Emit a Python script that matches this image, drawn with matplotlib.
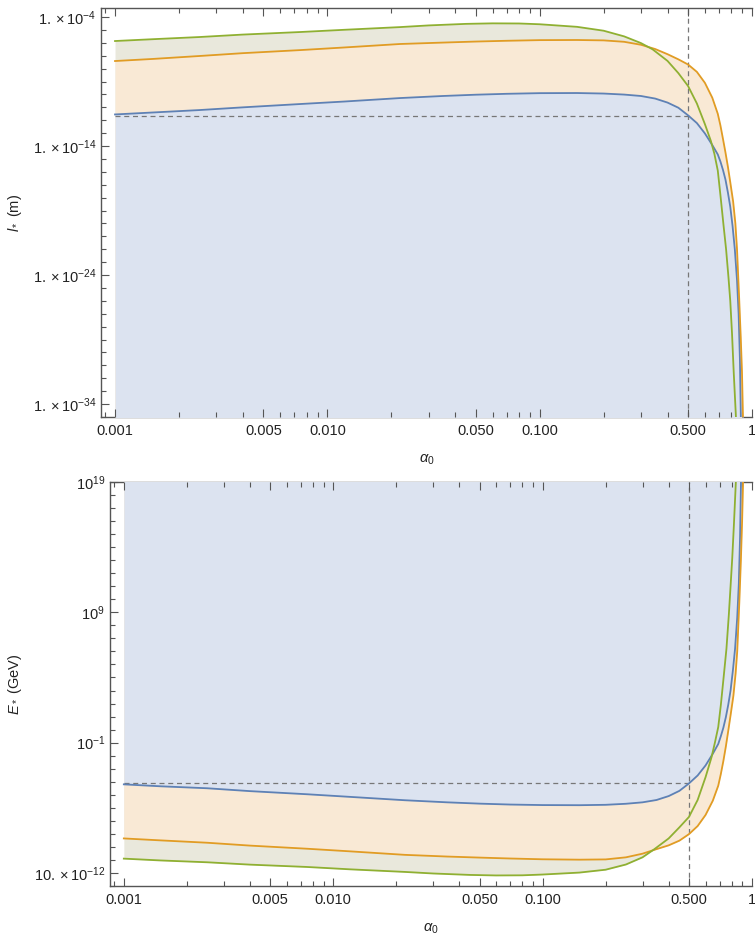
import numpy as np
import matplotlib
matplotlib.use('Agg')
import matplotlib.pyplot as plt
import matplotlib.ticker as mticker

plt.rcParams['font.family'] = ['Liberation Sans', 'DejaVu Sans']
plt.rcParams['mathtext.fontset'] = 'custom'
plt.rcParams['mathtext.rm'] = 'Liberation Sans'
plt.rcParams['mathtext.it'] = 'Liberation Sans:italic'

# ---- upper panel: l_* (m), values as log10 ----
a_blue_top = [0.001, 0.0015, 0.0025, 0.004, 0.0075, 0.012, 0.022, 0.035, 0.05, 0.07, 0.1, 0.15, 0.2,
              0.25, 0.3, 0.35, 0.4, 0.45, 0.5, 0.55, 0.6, 0.65, 0.69, 0.71, 0.73, 0.75, 0.77, 0.79,
              0.81, 0.83, 0.85, 0.865, 0.877, 0.887]
l_blue = [-11.55, -11.40, -11.21, -11.00, -10.74, -10.55, -10.28, -10.12, -10.02, -9.95, -9.90, -9.89, -9.93,
          -10.01, -10.12, -10.32, -10.63, -11.03, -11.62, -12.22, -13.02, -13.92, -14.65, -15.2, -15.85, -16.6,
          -17.6, -18.7, -20.2, -22.0, -24.4, -27.0, -30.5, -35.5]

a_orange_top = [0.001, 0.0015, 0.0025, 0.004, 0.0075, 0.012, 0.022, 0.035, 0.05, 0.07, 0.1, 0.15, 0.2,
                0.25, 0.3, 0.35, 0.4, 0.45, 0.5, 0.55, 0.6, 0.65, 0.69, 0.71, 0.73, 0.75, 0.77, 0.79,
                0.815, 0.835, 0.85, 0.87, 0.885, 0.897, 0.908]
l_orange = [-7.41, -7.25, -7.02, -6.80, -6.56, -6.36, -6.09, -5.98, -5.90, -5.84, -5.79, -5.78, -5.81,
            -5.92, -6.15, -6.48, -6.88, -7.28, -7.68, -8.25, -9.10, -10.25, -11.5, -12.4, -13.45, -14.5,
            -15.6, -16.8, -18.3, -20.0, -22.0, -25.8, -28.8, -31.5, -35.5]

a_green_top = [0.001, 0.0015, 0.0025, 0.004, 0.0075, 0.012, 0.022, 0.03, 0.045, 0.06, 0.08, 0.1, 0.15,
               0.2, 0.25, 0.3, 0.34, 0.4, 0.45, 0.5, 0.55, 0.6, 0.64, 0.665, 0.69, 0.71, 0.735, 0.755,
               0.775, 0.79, 0.805, 0.82, 0.843]
l_green = [-5.86, -5.72, -5.55, -5.36, -5.16, -4.99, -4.78, -4.65, -4.53, -4.49, -4.50, -4.56, -4.76,
           -5.06, -5.50, -6.02, -6.50, -7.40, -8.35, -9.35, -10.7, -12.3, -13.6, -14.6, -15.9, -17.8,
           -20.2, -22.0, -24.2, -26.0, -28.5, -31.5, -35.5]

# ---- lower panel: E_* (GeV), values as log10 ----
a_blue_bot = [0.001, 0.0015, 0.0025, 0.004, 0.0075, 0.012, 0.022, 0.035, 0.05, 0.07, 0.1, 0.15, 0.2,
              0.25, 0.3, 0.35, 0.4, 0.45, 0.5, 0.55, 0.6, 0.65, 0.69, 0.71, 0.73, 0.75, 0.77, 0.79,
              0.81, 0.83, 0.85, 0.865, 0.877, 0.887]
E_blue = [-4.20, -4.35, -4.50, -4.72, -4.96, -5.16, -5.42, -5.58, -5.68, -5.75, -5.79, -5.80, -5.77,
          -5.69, -5.58, -5.40, -5.10, -4.70, -4.13, -3.52, -2.75, -1.85, -1.1, -0.5, 0.15, 0.95,
          1.9, 3.0, 4.5, 6.2, 8.6, 11.2, 14.8, 19.5]

a_orange_bot = [0.001, 0.0015, 0.0025, 0.004, 0.0075, 0.012, 0.022, 0.035, 0.05, 0.07, 0.1, 0.15, 0.2,
                0.25, 0.3, 0.35, 0.4, 0.45, 0.5, 0.55, 0.6, 0.65, 0.69, 0.71, 0.73, 0.75, 0.77, 0.79,
                0.815, 0.835, 0.85, 0.87, 0.885, 0.897, 0.908]
E_orange = [-8.35, -8.50, -8.68, -8.90, -9.14, -9.34, -9.61, -9.74, -9.82, -9.89, -9.95, -9.98, -9.96,
            -9.80, -9.52, -9.17, -8.88, -8.52, -8.02, -7.40, -6.55, -5.45, -4.30, -3.4, -2.40, -1.3,
            -0.1, 1.1, 2.6, 4.3, 6.0, 9.8, 13.0, 16.0, 19.5]

a_green_bot = [0.001, 0.0015, 0.0025, 0.004, 0.0075, 0.012, 0.022, 0.03, 0.045, 0.06, 0.08, 0.1, 0.15,
               0.2, 0.25, 0.3, 0.34, 0.4, 0.45, 0.5, 0.55, 0.6, 0.64, 0.665, 0.69, 0.71, 0.735, 0.755,
               0.775, 0.79, 0.805, 0.82, 0.84]
E_green = [-9.90, -10.04, -10.18, -10.36, -10.54, -10.72, -10.92, -11.04, -11.15, -11.19, -11.18, -11.12, -10.97,
           -10.75, -10.35, -9.80, -9.20, -8.35, -7.50, -6.70, -5.40, -3.65, -2.15, -1.0, 0.2, 1.9,
           4.3, 6.2, 8.8, 11.0, 13.2, 15.8, 19.5]

# reference point (dashed guides)
alpha_ref = 0.5
l_ref = -11.65
E_ref = -4.13

x_major = [0.001, 0.005, 0.01, 0.05, 0.1, 0.5, 1]
x_labels = ['0.001', '0.005', '0.010', '0.050', '0.100', '0.500', '1']
l_major = [-4, -14, -24, -34]
l_labels = [r'$1.\times10^{-4}$', r'$1.\times10^{-14}$', r'$1.\times10^{-24}$', r'$1.\times10^{-34}$']
E_major = [19, 9, -1, -11]
E_labels = [r'$10^{19}$', r'$10^{9}$', r'$10^{-1}$', r'$10.\times10^{-12}$']

c_blue, c_orange, c_green = '#5E81B5', '#E19C24', '#8FB032'
f_blue, f_orange, f_green = '#DCE3F0', '#F9E9D5', '#E9E8DC'

fig = plt.figure(figsize=(7.55, 9.36), dpi=100)
ax1 = fig.add_axes([101 / 755, 1 - 417 / 936, 651 / 755, 409 / 936])
ax2 = fig.add_axes([110 / 755, 1 - 886 / 936, 642 / 755, 404 / 936])


def setup(ax, ymin, ymax, ymajor, ylabels):
    ax.set_xscale('log')
    ax.set_yscale('log')
    ax.set_xlim(10 ** -3.066, 1.0)
    ax.set_ylim(10.0 ** ymin, 10.0 ** ymax)
    ax.xaxis.set_major_locator(mticker.FixedLocator(x_major))
    ax.xaxis.set_major_formatter(mticker.FixedFormatter(x_labels))
    ax.xaxis.set_minor_locator(mticker.LogLocator(base=10, subs=np.arange(2, 10), numticks=20))
    ax.xaxis.set_minor_formatter(mticker.NullFormatter())
    ax.yaxis.set_major_locator(mticker.FixedLocator([10.0 ** e for e in ymajor]))
    ax.yaxis.set_major_formatter(mticker.FixedFormatter(ylabels))
    ax.yaxis.set_minor_locator(mticker.FixedLocator([10.0 ** e for e in range(int(ymin), int(ymax) + 1)]))
    ax.yaxis.set_minor_formatter(mticker.NullFormatter())
    ax.tick_params(which='both', direction='in', top=True, right=False, color='#555555',
                   labelcolor='#222222', labelsize=10.5, width=0.8)
    ax.tick_params(which='major', length=6)
    ax.tick_params(which='minor', length=3.5)
    ax.tick_params(axis='x', pad=5)
    ax.tick_params(axis='y', pad=3.5)
    ax.spines['right'].set_visible(False)
    for s in ['left', 'top', 'bottom']:
        ax.spines[s].set_color('#555555')
        ax.spines[s].set_linewidth(1.0)
        ax.spines[s].set_zorder(0.5)
    ax.set_xlabel(r'$\alpha_0$', fontsize=10.5, color='#222222', va='top')
    ax.xaxis.set_label_coords(0.5, -0.088)


setup(ax1, -35, -3.3, l_major, l_labels)
setup(ax2, -12, 19, E_major, E_labels)

# upper panel: fills below the curves, drawn back to front
for a, l, fc in [(a_green_top, l_green, f_green), (a_orange_top, l_orange, f_orange), (a_blue_top, l_blue, f_blue)]:
    ax1.fill_between(a, 10.0 ** np.array(l), 1e-40, color=fc, lw=0, zorder=1)
for a, l, c in [(a_blue_top, l_blue, c_blue), (a_orange_top, l_orange, c_orange), (a_green_top, l_green, c_green)]:
    ax1.plot(a, 10.0 ** np.array(l), color=c, lw=1.3, zorder=2)

ax1.axvline(alpha_ref, color='#777777', lw=0.9, dashes=(4, 3), zorder=1.5)
ax1.plot([0.001, alpha_ref], [10 ** l_ref, 10 ** l_ref], color='#777777', lw=0.9, dashes=(4, 3), zorder=1.5)
ax1.set_ylabel(r'$l_*$ (m)', fontsize=10.5, color='#222222', va='center')
ax1.yaxis.set_label_coords(-0.132, 0.5)

# lower panel: fills above the curves
for a, e, fc in [(a_green_bot, E_green, f_green), (a_orange_bot, E_orange, f_orange), (a_blue_bot, E_blue, f_blue)]:
    ax2.fill_between(a, 10.0 ** np.array(e), 1e25, color=fc, lw=0, zorder=1)
for a, e, c in [(a_blue_bot, E_blue, c_blue), (a_orange_bot, E_orange, c_orange), (a_green_bot, E_green, c_green)]:
    ax2.plot(a, 10.0 ** np.array(e), color=c, lw=1.3, zorder=2)

ax2.axvline(alpha_ref, color='#777777', lw=0.9, dashes=(4, 3), zorder=1.5)
ax2.plot([0.001, alpha_ref], [10 ** E_ref, 10 ** E_ref], color='#777777', lw=0.9, dashes=(4, 3), zorder=1.5)
ax2.set_ylabel(r'$E_*$ (GeV)', fontsize=10.5, color='#222222', va='center')
ax2.yaxis.set_label_coords(-0.148, 0.5)

fig.savefig('out.png', dpi=100)
